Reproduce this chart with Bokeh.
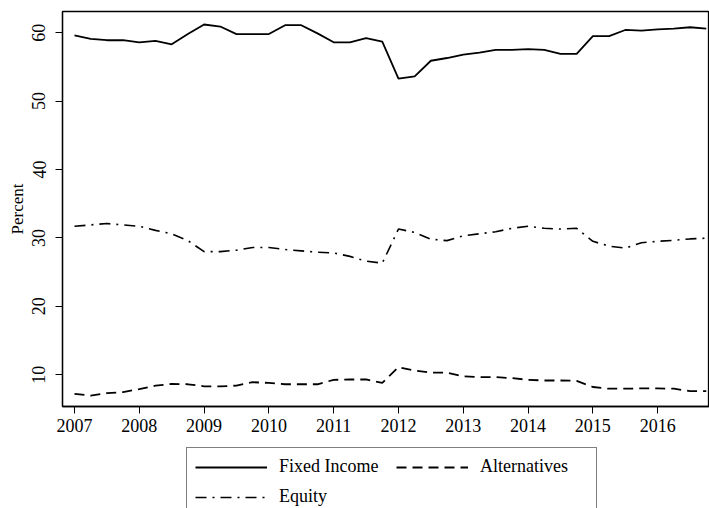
from bokeh.plotting import figure
from bokeh.layouts import column
from bokeh.models import Legend, LegendItem, FixedTicker, Range1d
from bokeh.embed import file_html
from bokeh.resources import INLINE

quarters = [2007.0, 2007.25, 2007.5, 2007.75, 2008.0, 2008.25, 2008.5, 2008.75,
            2009.0, 2009.25, 2009.5, 2009.75, 2010.0, 2010.25, 2010.5, 2010.75,
            2011.0, 2011.25, 2011.5, 2011.75, 2012.0, 2012.25, 2012.5, 2012.75,
            2013.0, 2013.25, 2013.5, 2013.75, 2014.0, 2014.25, 2014.5, 2014.75,
            2015.0, 2015.25, 2015.5, 2015.75, 2016.0, 2016.25, 2016.5, 2016.75]

fixed_income = [59.6, 59.1, 58.9, 58.9, 58.6, 58.8, 58.3, 59.8,
                61.2, 60.9, 59.8, 59.8, 59.8, 61.1, 61.1, 59.9,
                58.6, 58.6, 59.2, 58.7, 53.3, 53.6, 55.9, 56.3,
                56.8, 57.1, 57.5, 57.5, 57.6, 57.5, 56.9, 56.9,
                59.5, 59.5, 60.4, 60.3, 60.5, 60.6, 60.8, 60.6]

equity = [31.7, 31.9, 32.1, 31.9, 31.7, 31.1, 30.6, 29.6,
          28.0, 28.0, 28.2, 28.6, 28.6, 28.3, 28.1, 27.9,
          27.8, 27.3, 26.6, 26.3, 31.3, 30.8, 29.8, 29.6,
          30.3, 30.6, 30.9, 31.4, 31.7, 31.4, 31.3, 31.4,
          29.5, 28.8, 28.5, 29.3, 29.5, 29.65, 29.85, 29.95]

alternatives = [7.2, 6.95, 7.3, 7.45, 7.9, 8.4, 8.65, 8.6,
                8.3, 8.3, 8.4, 8.9, 8.8, 8.6, 8.6, 8.6,
                9.25, 9.3, 9.3, 8.8, 11.1, 10.6, 10.3, 10.3,
                9.75, 9.65, 9.65, 9.5, 9.25, 9.15, 9.15, 9.1,
                8.2, 7.95, 7.95, 8.0, 8.0, 7.95, 7.6, 7.6]

series_names = ["Fixed Income", "Alternatives", "Equity"]
year_ticks = [2007, 2008, 2009, 2010, 2011, 2012, 2013, 2014, 2015, 2016]
pct_ticks = [10, 20, 30, 40, 50, 60]

FONT = "Liberation Serif"
STYLES = {
    "Fixed Income": dict(line_color="black", line_width=1.8),
    "Alternatives": dict(line_color="black", line_width=1.8, line_dash="10 6"),
    "Equity": dict(line_color="black", line_width=1.6, line_dash="11 6 2 6"),
}

p = figure(width=709, height=444, output_backend="svg", toolbar_location=None,
           x_range=Range1d(2006.815, 2016.80), y_range=Range1d(5.35, 63.1),
           min_border_left=62, min_border_right=0, min_border_top=11, min_border_bottom=38)

p.background_fill_color = "white"
p.border_fill_color = "white"
p.outline_line_color = "black"
p.outline_line_width = 1.3
p.xgrid.visible = False
p.ygrid.visible = False

p.line(quarters, fixed_income, **STYLES["Fixed Income"])
p.line(quarters, alternatives, **STYLES["Alternatives"])
p.line(quarters, equity, **STYLES["Equity"])

for ax in (p.xaxis[0], p.yaxis[0]):
    ax.axis_line_color = "black"
    ax.axis_line_width = 1.3
    ax.major_tick_line_color = "black"
    ax.major_tick_line_width = 1
    ax.major_tick_in = 0
    ax.major_tick_out = 7
    ax.minor_tick_line_color = None
    ax.major_label_text_font = FONT
    ax.major_label_text_font_size = "18px"
    ax.major_label_text_color = "black"
    ax.axis_label_text_font = FONT
    ax.axis_label_text_font_style = "normal"
    ax.axis_label_text_color = "black"

p.xaxis.ticker = FixedTicker(ticks=year_ticks)
p.yaxis.ticker = FixedTicker(ticks=pct_ticks)
p.yaxis.major_label_orientation = "vertical"
p.yaxis.axis_label = "Percent"
p.yaxis.axis_label_text_font_size = "17px"
p.yaxis.axis_label_standoff = 3
p.yaxis.major_label_standoff = 10
p.xaxis.major_label_standoff = 5

# legend panel beneath the chart
lg = figure(width=709, height=64, output_backend="svg", toolbar_location=None,
            x_range=Range1d(0, 1), y_range=Range1d(0, 1),
            min_border_left=0, min_border_right=0, min_border_top=0, min_border_bottom=0)
lg.axis.visible = False
lg.grid.visible = False
lg.outline_line_color = None
lg.background_fill_color = "white"
lg.border_fill_color = "white"

items = []
for name in series_names:
    # legend proxy, placed outside the visible range of the legend panel
    r = lg.line([5, 6], [5, 5], **STYLES[name])
    items.append(LegendItem(label=name, renderers=[r]))

legend = Legend(items=items, ncols=2, location=(124, -8), orientation="horizontal")
legend.label_text_font = FONT
legend.label_text_font_size = "18px"
legend.label_text_color = "black"
legend.glyph_width = 72
legend.glyph_height = 20
legend.label_height = 20
legend.label_width = 108
legend.label_standoff = 12
legend.spacing = 9
legend.padding = 8
legend.margin = 0
legend.border_line_color = "black"
legend.border_line_width = 1
legend.background_fill_alpha = 1
lg.add_layout(legend, "center")

layout = column(p, lg, spacing=0)
open("out.html", "w").write(file_html(layout, INLINE))
